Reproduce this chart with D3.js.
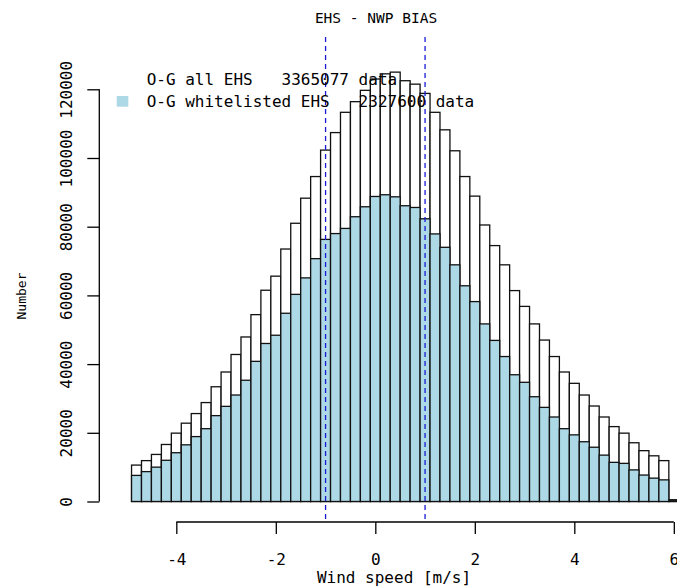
<!DOCTYPE html>
<html>
<head>
<meta charset="utf-8">
<script src="https://cdn.jsdelivr.net/npm/d3@7"></script>
<style>
  body { margin: 0; background: #fff; }
  svg { display: block; }
  text { font-family: "DejaVu Sans Mono", "Liberation Mono", monospace; fill: #000; }
</style>
</head>
<body>
<div id="chart"></div>
<script>
// bin centres (bin width 0.2 m/s)
var binCenters = [-5.0, -4.8, -4.6, -4.4, -4.2, -4.0, -3.8, -3.6, -3.4, -3.2,
    -3.0, -2.8, -2.6, -2.4, -2.2, -2.0, -1.8, -1.6, -1.4, -1.2,
    -1.0, -0.8, -0.6, -0.4, -0.2, 0.0, 0.2, 0.4, 0.6, 0.8,
    1.0, 1.2, 1.4, 1.6, 1.8, 2.0, 2.2, 2.4, 2.6, 2.8,
    3.0, 3.2, 3.4, 3.6, 3.8, 4.0, 4.2, 4.4, 4.6, 4.8,
    5.0, 5.2, 5.4, 5.6, 5.8, 6.0];
var binWidth = 0.2;

// O-G all EHS counts
var allEHS = [0, 10600, 11900, 13700, 16600, 19900, 22800, 25600, 28800, 33400,
    37700, 42800, 47900, 54400, 61500, 65600, 73500, 81000, 88300, 94600,
    102300, 107400, 113300, 116400, 119700, 123000, 124500, 125000, 122500, 121500,
    118800, 113300, 108200, 102100, 94600, 88900, 80500, 74500, 68900, 61400,
    56800, 51700, 47000, 42200, 37700, 34400, 31000, 27800, 24600, 21800,
    19900, 17100, 14800, 13300, 11900, 500];

// O-G whitelisted EHS counts
var whiteEHS = [0, 7600, 8700, 10000, 12000, 14200, 16500, 18900, 21200, 25000,
    27700, 31000, 35300, 40800, 46000, 48400, 54800, 60300, 65100, 70700,
    76300, 78000, 79500, 82900, 85800, 88800, 89300, 88700, 86100, 85600,
    82300, 77900, 74000, 68900, 62800, 58200, 51700, 46900, 42200, 36900,
    34700, 30500, 27400, 24600, 21200, 19400, 17400, 15800, 13500, 11400,
    11100, 9200, 7700, 6800, 6300, 400];

var xTicks = [-4, -2, 0, 2, 4, 6];
var yTicks = [0, 20000, 40000, 60000, 80000, 100000, 120000];
var limits = [-1, 1];
var legendLabels = ["O-G all EHS   3365077 data", "O-G whitelisted EHS   2327600 data"];

var width = 677, height = 588;
var plotTop = 37, plotBottom = 522, plotLeft = 99.3;

var svg = d3.select("#chart").append("svg")
    .attr("width", width)
    .attr("height", height);

var x = d3.scaleLinear()
    .domain([-5.548, 6.548])
    .range([plotLeft, plotLeft + 12.096 * 49.75]);

var y = d3.scaleLinear()
    .domain([0, 120000])
    .range([501.5, 89.3]);

var bars = binCenters.map(function (c, i) {
    return { x0: c - binWidth / 2, x1: c + binWidth / 2, all: allEHS[i], white: whiteEHS[i] };
});

// all EHS histogram (white)
svg.append("g").selectAll("rect")
    .data(bars)
    .enter().append("rect")
    .attr("x", function (d) { return x(d.x0); })
    .attr("width", function (d) { return x(d.x1) - x(d.x0); })
    .attr("y", function (d) { return y(d.all); })
    .attr("height", function (d) { return y(0) - y(d.all); })
    .attr("fill", "#fff")
    .attr("stroke", "#111")
    .attr("stroke-width", 1.3);

// whitelisted histogram on top (light blue)
svg.append("g").selectAll("rect")
    .data(bars)
    .enter().append("rect")
    .attr("x", function (d) { return x(d.x0); })
    .attr("width", function (d) { return x(d.x1) - x(d.x0); })
    .attr("y", function (d) { return y(d.white); })
    .attr("height", function (d) { return y(0) - y(d.white); })
    .attr("fill", "#add8e6")
    .attr("stroke", "#111")
    .attr("stroke-width", 1.3);

// dashed limits
svg.append("g").selectAll("line")
    .data(limits)
    .enter().append("line")
    .attr("x1", function (d) { return x(d); })
    .attr("x2", function (d) { return x(d); })
    .attr("y1", plotTop)
    .attr("y2", plotBottom)
    .attr("stroke", "#1a1ad6")
    .attr("stroke-width", 1.3)
    .attr("stroke-dasharray", "5,4");

// x axis
var gx = svg.append("g")
    .attr("transform", "translate(0," + plotBottom + ")")
    .call(d3.axisBottom(x).tickValues(xTicks).tickSize(12).tickFormat(d3.format("d")));
gx.select(".domain").remove();
gx.append("line")
    .attr("x1", x(xTicks[0])).attr("x2", x(xTicks[xTicks.length - 1]))
    .attr("stroke", "#000").attr("stroke-width", 1.3);
gx.selectAll(".tick line").attr("stroke", "#000").attr("stroke-width", 1.3);
gx.selectAll(".tick text")
    .attr("y", 43).attr("dy", 0)
    .style("font-size", "16px")
    .style("font-family", "'DejaVu Sans Mono', monospace")
    .text(function (d) { return d < 0 ? "-" + Math.abs(d) : d; });

// y axis
var gy = svg.append("g")
    .attr("transform", "translate(" + plotLeft + ",0)")
    .call(d3.axisLeft(y).tickValues(yTicks).tickSize(12).tickFormat(d3.format("d")));
gy.select(".domain").remove();
gy.append("line")
    .attr("y1", y(yTicks[0])).attr("y2", y(yTicks[yTicks.length - 1]))
    .attr("stroke", "#000").attr("stroke-width", 1.3);
gy.selectAll(".tick line").attr("stroke", "#000").attr("stroke-width", 1.3);
gy.selectAll(".tick text")
    .attr("x", 0).attr("dy", 0)
    .attr("text-anchor", "middle")
    .attr("transform", "translate(-27,0) rotate(-90)")
    .style("font-size", "16px")
    .style("font-family", "'DejaVu Sans Mono', monospace");

// titles
svg.append("text")
    .attr("x", 376).attr("y", 23)
    .attr("text-anchor", "middle")
    .style("font-size", "14.5px")
    .text("EHS - NWP BIAS");

svg.append("text")
    .attr("x", 394).attr("y", 583)
    .attr("text-anchor", "middle")
    .style("font-size", "16px")
    .text("Wind speed [m/s]");

svg.append("text")
    .attr("transform", "translate(26,296) rotate(-90)")
    .attr("text-anchor", "middle")
    .style("font-size", "13px")
    .text("Number");

// legend
var legend = svg.append("g");
legend.append("rect")
    .attr("x", 116.7).attr("y", 96)
    .attr("width", 11.6).attr("height", 10.7)
    .attr("fill", "#add8e6");
legend.selectAll("text")
    .data(legendLabels)
    .enter().append("text")
    .attr("x", 146.7)
    .attr("y", function (d, i) { return 85 + i * 21.7; })
    .style("font-size", "16px")
    .style("white-space", "pre")
    .attr("xml:space", "preserve")
    .text(function (d) { return d; });
</script>
</body>
</html>
